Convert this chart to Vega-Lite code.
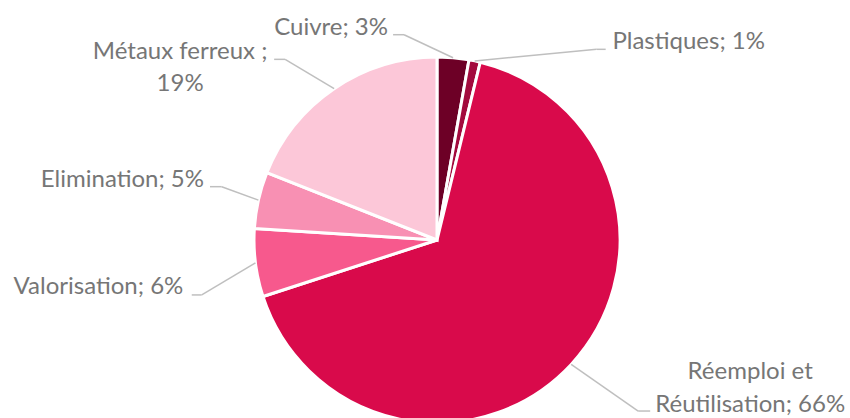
{
  "$schema": "https://vega.github.io/schema/vega-lite/v6.json",
  "width": 826,
  "height": 356,
  "autosize": {"type": "none"},
  "padding": {"left": 24, "top": 62, "right": 0, "bottom": 0},
  "background": "white",
  "config": {"view": {"stroke": null}},
  "data": {
    "values": [
      {"cat": "Cuivre", "value": 2.8, "label": "Cuivre; 3%"},
      {"cat": "Plastiques", "value": 1.0, "label": "Plastiques; 1%"},
      {"cat": "Réemploi et Réutilisation", "value": 66.2, "label": "Réemploi et\nRéutilisation; 66%"},
      {"cat": "Valorisation", "value": 6.0, "label": "Valorisation; 6%"},
      {"cat": "Elimination", "value": 5.0, "label": "Elimination; 5%"},
      {"cat": "Métaux ferreux", "value": 19.0, "label": "Métaux ferreux ;\n19%"}
    ]
  },
  "transform": [
    {"window": [{"op": "sum", "field": "value", "as": "cum"}], "frame": [null, 0]},
    {"calculate": "datum.cum - datum.value", "as": "start"},
    {"calculate": "datum.cum - datum.value / 2", "as": "mid"},
    {"calculate": "183 * sin(2 * PI * datum.mid / 100)", "as": "sx"},
    {"calculate": "183 * cos(2 * PI * datum.mid / 100)", "as": "sy"}
  ],
  "layer": [
    {
      "mark": {"type": "arc", "outerRadius": 183, "stroke": "white", "strokeWidth": 3},
      "encoding": {
        "theta": {"field": "start", "type": "quantitative", "stack": null, "scale": {"domain": [0, 100], "range": [0, 6.283185307179586]}},
        "theta2": {"field": "cum"},
        "color": {
          "field": "cat", "type": "nominal", "legend": null,
          "scale": {
            "domain": ["Cuivre", "Plastiques", "Réemploi et Réutilisation", "Valorisation", "Elimination", "Métaux ferreux"],
            "range": ["#6D0026", "#A30A3D", "#D90A4B", "#F7598D", "#F890B3", "#FCC7D8"]
          }
        }
      }
    },
    {
      "transform": [{"filter": "datum.cat == 'Cuivre'"}],
      "encoding": {
        "x": {"field": "sx", "type": "quantitative", "axis": null, "scale": {"domain": [-413, 413], "nice": false, "zero": false}},
        "y": {"field": "sy", "type": "quantitative", "axis": null, "scale": {"domain": [-178, 178], "nice": false, "zero": false}},
        "x2": {"field": "sx"},
        "y2": {"field": "sy"}
      },
      "layer": [
        {"mark": {"type": "rule", "color": "#BFBFBF", "strokeWidth": 1.5, "x2Offset": -49, "y2Offset": -23}},
        {"mark": {"type": "rule", "color": "#BFBFBF", "strokeWidth": 1.5, "xOffset": -49, "yOffset": -23, "x2Offset": -60, "y2Offset": -23}}
      ]
    },
    {
      "transform": [{"filter": "datum.cat == 'Plastiques'"}],
      "encoding": {
        "x": {"field": "sx", "type": "quantitative", "axis": null, "scale": {"domain": [-413, 413], "nice": false, "zero": false}},
        "y": {"field": "sy", "type": "quantitative", "axis": null, "scale": {"domain": [-178, 178], "nice": false, "zero": false}},
        "x2": {"field": "sx"},
        "y2": {"field": "sy"}
      },
      "layer": [
        {"mark": {"type": "rule", "color": "#BFBFBF", "strokeWidth": 1.5, "x2Offset": 122, "y2Offset": -11.6}},
        {"mark": {"type": "rule", "color": "#BFBFBF", "strokeWidth": 1.5, "xOffset": 122, "yOffset": -11.6, "x2Offset": 131, "y2Offset": -11.6}}
      ]
    },
    {
      "transform": [{"filter": "datum.cat == 'Réemploi et Réutilisation'"}],
      "encoding": {
        "x": {"field": "sx", "type": "quantitative", "axis": null, "scale": {"domain": [-413, 413], "nice": false, "zero": false}},
        "y": {"field": "sy", "type": "quantitative", "axis": null, "scale": {"domain": [-178, 178], "nice": false, "zero": false}},
        "x2": {"field": "sx"},
        "y2": {"field": "sy"}
      },
      "layer": [
        {"mark": {"type": "rule", "color": "#BFBFBF", "strokeWidth": 1.5, "x2Offset": 67, "y2Offset": 46.6}},
        {"mark": {"type": "rule", "color": "#BFBFBF", "strokeWidth": 1.5, "xOffset": 67, "yOffset": 46.6, "x2Offset": 79, "y2Offset": 46.6}}
      ]
    },
    {
      "transform": [{"filter": "datum.cat == 'Valorisation'"}],
      "encoding": {
        "x": {"field": "sx", "type": "quantitative", "axis": null, "scale": {"domain": [-413, 413], "nice": false, "zero": false}},
        "y": {"field": "sy", "type": "quantitative", "axis": null, "scale": {"domain": [-178, 178], "nice": false, "zero": false}},
        "x2": {"field": "sx"},
        "y2": {"field": "sy"}
      },
      "layer": [
        {"mark": {"type": "rule", "color": "#BFBFBF", "strokeWidth": 1.5, "x2Offset": -53.7, "y2Offset": 32}},
        {"mark": {"type": "rule", "color": "#BFBFBF", "strokeWidth": 1.5, "xOffset": -53.7, "yOffset": 32, "x2Offset": -63.7, "y2Offset": 32}}
      ]
    },
    {
      "transform": [{"filter": "datum.cat == 'Elimination'"}],
      "encoding": {
        "x": {"field": "sx", "type": "quantitative", "axis": null, "scale": {"domain": [-413, 413], "nice": false, "zero": false}},
        "y": {"field": "sy", "type": "quantitative", "axis": null, "scale": {"domain": [-178, 178], "nice": false, "zero": false}},
        "x2": {"field": "sx"},
        "y2": {"field": "sy"}
      },
      "layer": [
        {"mark": {"type": "rule", "color": "#BFBFBF", "strokeWidth": 1.5, "x2Offset": -36.7, "y2Offset": -13.4}},
        {"mark": {"type": "rule", "color": "#BFBFBF", "strokeWidth": 1.5, "xOffset": -36.7, "yOffset": -13.4, "x2Offset": -48.4, "y2Offset": -13.4}}
      ]
    },
    {
      "transform": [{"filter": "datum.cat == 'Métaux ferreux'"}],
      "encoding": {
        "x": {"field": "sx", "type": "quantitative", "axis": null, "scale": {"domain": [-413, 413], "nice": false, "zero": false}},
        "y": {"field": "sy", "type": "quantitative", "axis": null, "scale": {"domain": [-178, 178], "nice": false, "zero": false}},
        "x2": {"field": "sx"},
        "y2": {"field": "sy"}
      },
      "layer": [
        {"mark": {"type": "rule", "color": "#BFBFBF", "strokeWidth": 1.5, "x2Offset": -49, "y2Offset": -29.3}},
        {"mark": {"type": "rule", "color": "#BFBFBF", "strokeWidth": 1.5, "xOffset": -49, "yOffset": -29.3, "x2Offset": -60, "y2Offset": -29.3}}
      ]
    },
    {
      "transform": [{"filter": "datum.cat == 'Cuivre'"}],
      "mark": {"type": "text", "radius": 183, "dx": -122, "dy": -30, "align": "center", "baseline": "middle", "font": "Lato", "fontSize": 24, "color": "#767676", "lineBreak": "\n", "lineHeight": 32},
      "encoding": {"theta": {"field": "mid", "type": "quantitative", "stack": null}, "text": {"field": "label"}}
    },
    {
      "transform": [{"filter": "datum.cat == 'Plastiques'"}],
      "mark": {"type": "text", "radius": 183, "dx": 214, "dy": -19, "align": "center", "baseline": "middle", "font": "Lato", "fontSize": 24, "color": "#767676", "lineBreak": "\n", "lineHeight": 32},
      "encoding": {"theta": {"field": "mid", "type": "quantitative", "stack": null}, "text": {"field": "label"}}
    },
    {
      "transform": [{"filter": "datum.cat == 'Réemploi et Réutilisation'"}],
      "mark": {"type": "text", "radius": 183, "dx": 179, "dy": 7.6, "align": "center", "baseline": "middle", "font": "Lato", "fontSize": 24, "color": "#767676", "lineBreak": "\n", "lineHeight": 33},
      "encoding": {"theta": {"field": "mid", "type": "quantitative", "stack": null}, "text": {"field": "label"}}
    },
    {
      "transform": [{"filter": "datum.cat == 'Valorisation'"}],
      "mark": {"type": "text", "radius": 183, "dx": -157, "dy": 24, "align": "center", "baseline": "middle", "font": "Lato", "fontSize": 24, "color": "#767676", "lineBreak": "\n", "lineHeight": 32},
      "encoding": {"theta": {"field": "mid", "type": "quantitative", "stack": null}, "text": {"field": "label"}}
    },
    {
      "transform": [{"filter": "datum.cat == 'Elimination'"}],
      "mark": {"type": "text", "radius": 183, "dx": -136, "dy": -20, "align": "center", "baseline": "middle", "font": "Lato", "fontSize": 24, "color": "#767676", "lineBreak": "\n", "lineHeight": 32},
      "encoding": {"theta": {"field": "mid", "type": "quantitative", "stack": null}, "text": {"field": "label"}}
    },
    {
      "transform": [{"filter": "datum.cat == 'Métaux ferreux'"}],
      "mark": {"type": "text", "radius": 183, "dx": -154, "dy": -36.6, "align": "center", "baseline": "middle", "font": "Lato", "fontSize": 24, "color": "#767676", "lineBreak": "\n", "lineHeight": 32},
      "encoding": {"theta": {"field": "mid", "type": "quantitative", "stack": null}, "text": {"field": "label"}}
    }
  ]
}
